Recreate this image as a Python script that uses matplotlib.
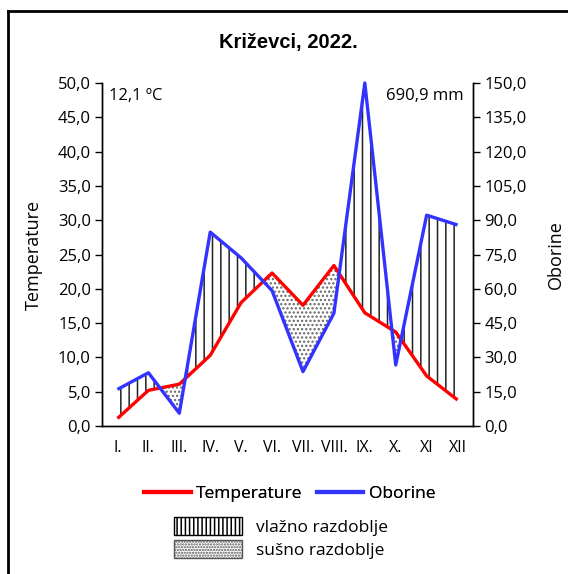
import matplotlib
matplotlib.use("Agg")
import matplotlib.pyplot as plt
import numpy as np
from matplotlib.lines import Line2D
from matplotlib.patches import Patch

months = ["I.", "II.", "III.", "IV.", "V.", "VI.", "VII.", "VIII.", "IX.", "X.", "XI", "XII"]
temperature = [1.1, 5.2, 6.1, 10.3, 18.0, 22.3, 17.6, 23.4, 16.5, 13.7, 7.3, 3.8]   # °C
oborine = [16.0, 23.3, 5.6, 84.8, 73.5, 59.2, 23.8, 49.3, 150.0, 26.7, 92.2, 87.9]  # mm
temp_ticks = np.arange(0, 50.1, 5)
prec_ticks = np.arange(0, 150.1, 15)

plt.rcParams["font.family"] = ["Open Sans", "DejaVu Sans"]
plt.rcParams["hatch.linewidth"] = 1.1

fig = plt.figure(figsize=(5.68, 5.74), dpi=100)
ax = fig.add_axes([0.1796, 0.2578, 0.6532, 0.5976])
ax2 = ax.twinx()

x = np.arange(len(months))
t = np.array(temperature)
p = np.array(oborine) / 3.0          # precipitation in temperature scale (1 °C = 3 mm)

ax.fill_between(x, t, p, where=p >= t, interpolate=True, facecolor="none",
                edgecolor="#222222", hatch="||", linewidth=0)
ax.fill_between(x, t, p, where=p < t, interpolate=True, facecolor="none",
                edgecolor="#666666", hatch="....", linewidth=0)
ax.plot(x, t, color="#ff0000", lw=2.4, solid_capstyle="butt", zorder=3)
ax2.plot(x, oborine, color="#3333ff", lw=2.4, solid_capstyle="butt", zorder=3,
         clip_on=False)

ax.set_xlim(-0.5, len(months) - 0.5)
ax.set_ylim(0, 50)
ax2.set_ylim(0, 150)
ax.set_xticks(x)
ax.set_xticklabels(months, fontsize=11.5)
ax.tick_params(axis="x", length=0, pad=10)
ax.set_yticks(temp_ticks)
ax.set_yticklabels([f"{v:.1f}".replace(".", ",") for v in temp_ticks], fontsize=12)
ax2.set_yticks(prec_ticks)
ax2.set_yticklabels([f"{v:.1f}".replace(".", ",") for v in prec_ticks], fontsize=12)
for a in (ax, ax2):
    a.tick_params(axis="y", length=5, width=1, direction="out", pad=3)
    a.spines["top"].set_visible(False)
    for s in a.spines.values():
        s.set_linewidth(1)
ax.set_ylabel("Temperature", fontsize=13, labelpad=11)
ax2.set_ylabel("Oborine", fontsize=13, labelpad=15)

ax.text(0.02, 0.985, "12,1 ºC", transform=ax.transAxes, ha="left", va="top", fontsize=12)
ax.text(0.975, 0.985, "690,9 mm", transform=ax.transAxes, ha="right", va="top", fontsize=12)

fig.text(0.508, 0.926, "Križevci, 2022.", ha="center", va="center", fontsize=14.5,
         fontweight="bold", family="Liberation Sans")

line_handles = [Line2D([], [], color="#ff0000", lw=3), Line2D([], [], color="#3333ff", lw=3)]
leg1 = fig.legend(line_handles, ["Temperature", "Oborine"], loc="center",
                  bbox_to_anchor=(0.51, 0.14), ncol=2, frameon=False, fontsize=12.5,
                  handlelength=2.7, handletextpad=0.3, columnspacing=0.8)
patch_handles = [Patch(facecolor="white", edgecolor="black", hatch="||||"),
                 Patch(facecolor="white", edgecolor="#555555", hatch="......")]
fig.legend(patch_handles, ["vlažno razdoblje", "sušno razdoblje"], loc="center",
           bbox_to_anchor=(0.495, 0.063), ncol=1, frameon=False, fontsize=12.5,
           handlelength=3.9, handleheight=1.25, handletextpad=0.8, labelspacing=0.2)
fig.add_artist(leg1)

# chart border (top and left edges visible in the crop)
fig.add_artist(Line2D([0.014, 1.0], [0.981, 0.981], color="black", lw=2,
                      transform=fig.transFigure))
fig.add_artist(Line2D([0.014, 0.014], [0.0, 0.981], color="black", lw=2,
                      transform=fig.transFigure))

fig.savefig("out.png", dpi=100)
